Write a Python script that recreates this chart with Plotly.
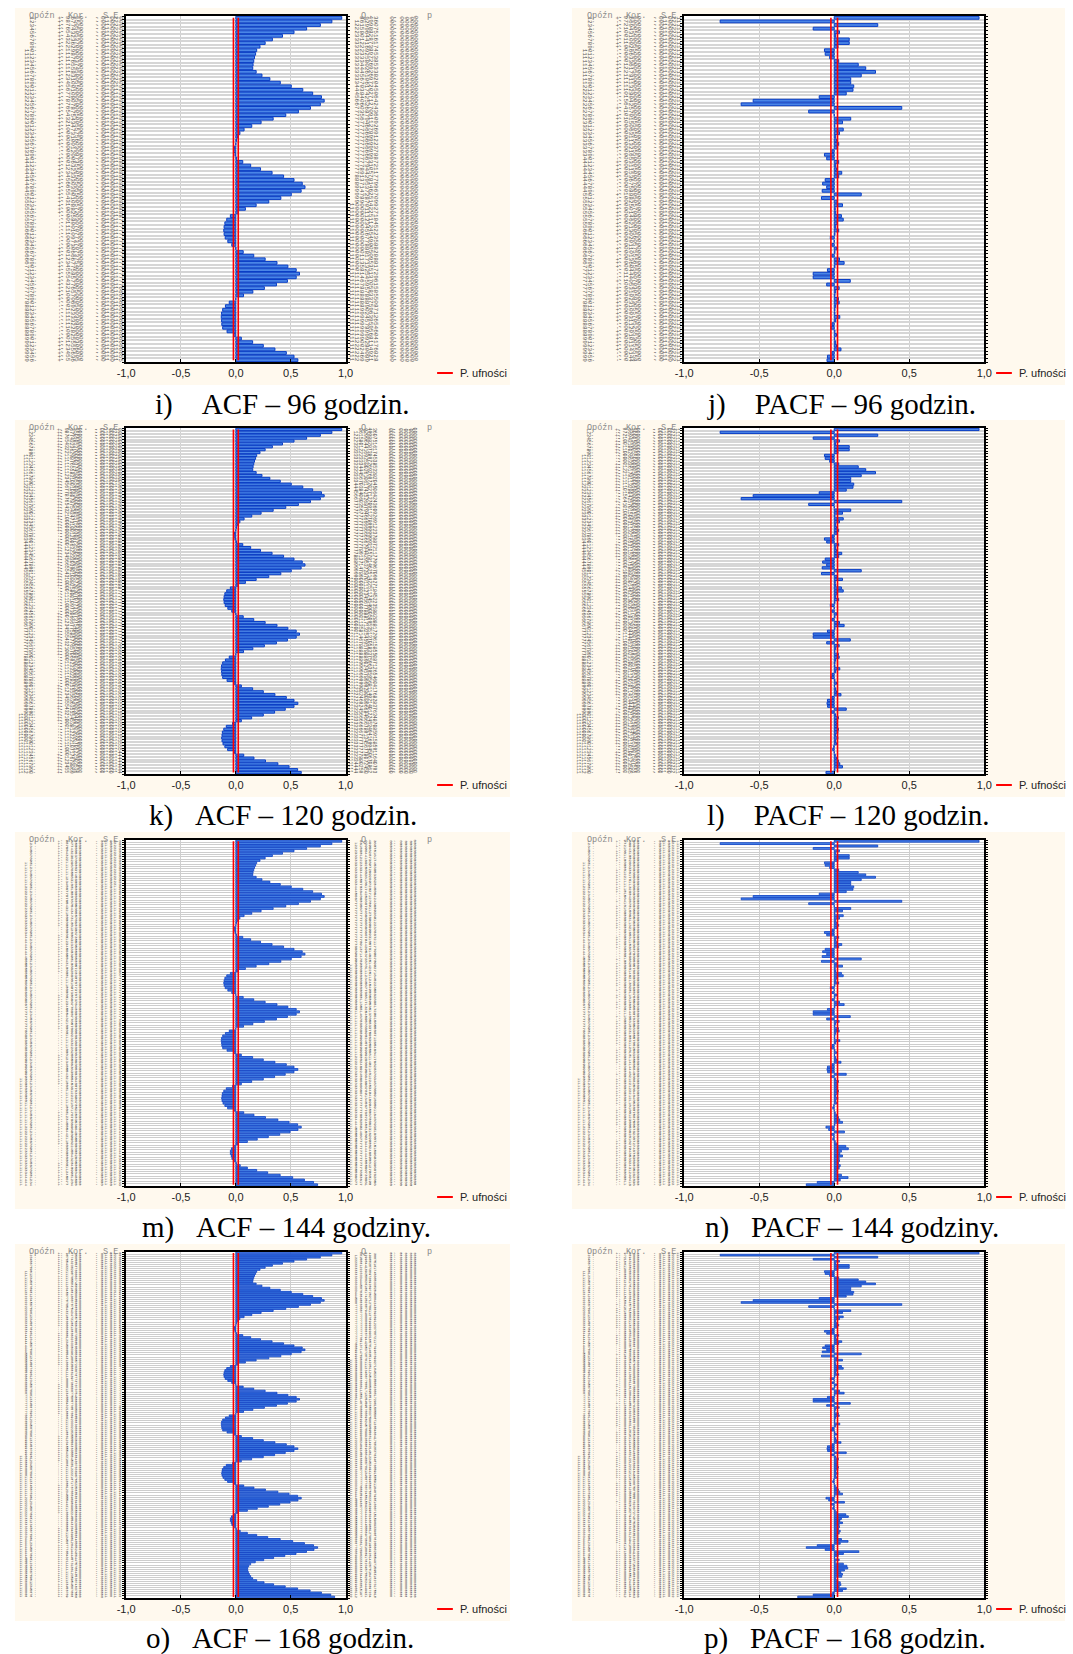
import math
import plotly.graph_objects as go

FIG_W, FIG_H = 1073, 1654

# ---------------- data ----------------
acf_lags_1_24 = [0.965, 0.875, 0.77, 0.645, 0.53, 0.425, 0.333, 0.267, 0.22, 0.19, 0.18, 0.17,
                 0.163, 0.157, 0.154, 0.185, 0.238, 0.31, 0.405, 0.505, 0.61, 0.70, 0.78, 0.805]
acf_lags_25_48 = [0.77, 0.68, 0.57, 0.455, 0.34, 0.23, 0.145, 0.075, 0.037, 0.015, 0.006, 0.0,
                  -0.013, -0.02, -0.008, 0.007, 0.063, 0.135, 0.225, 0.33, 0.435, 0.53, 0.605, 0.63]
acf_lags_49_72 = [0.595, 0.505, 0.41, 0.30, 0.185, 0.087, 0.022, -0.05, -0.083, -0.10, -0.107, -0.11,
                  -0.107, -0.097, -0.073, -0.037, 0.0, 0.067, 0.163, 0.267, 0.375, 0.474, 0.55, 0.58]
acf_lags_73_96 = [0.55, 0.47, 0.37, 0.26, 0.155, 0.07, 0.0, -0.06, -0.095, -0.12, -0.13, -0.133,
                  -0.13, -0.128, -0.12, -0.08, -0.02, 0.05, 0.153, 0.25, 0.356, 0.46, 0.53, 0.565]
acf_lags_97_120 = [0.53, 0.45, 0.353, 0.25, 0.144, 0.05, -0.03, -0.087, -0.11, -0.123, -0.126, -0.129,
                   -0.126, -0.117, -0.10, -0.075, -0.012, 0.072, 0.165, 0.27, 0.383, 0.485, 0.563, 0.596]
acf_lags_121_144 = [0.566, 0.494, 0.40, 0.296, 0.195, 0.105, 0.02, -0.02, -0.04, -0.05, -0.05, -0.042,
                    -0.036, -0.02, 0.005, 0.04, 0.105, 0.19, 0.29, 0.404, 0.518, 0.625, 0.708, 0.745]
acf_lags_145_168 = [0.712, 0.644, 0.548, 0.446, 0.344, 0.254, 0.177, 0.135, 0.117, 0.108, 0.108, 0.114,
                    0.123, 0.135, 0.153, 0.19, 0.257, 0.344, 0.45, 0.563, 0.677, 0.78, 0.865, 0.90]

pacf_lags_1_24 = [0.965, -0.76, 0.29, -0.14, 0.035, 0.01, 0.10, 0.10, 0.025, -0.065, -0.06, -0.03,
                  0.03, 0.16, 0.21, 0.275, 0.18, 0.11, 0.11, 0.13, 0.125, 0.08, -0.10, -0.54]
pacf_lags_25_48 = [-0.62, 0.45, -0.17, 0.0, 0.11, 0.055, 0.005, 0.06, 0.035, 0.01, 0.015, 0.03,
                   0.02, -0.015, -0.065, -0.05, 0.03, 0.01, 0.015, 0.05, 0.03, -0.06, -0.077, -0.05]
pacf_lags_49_72 = [-0.08, 0.18, -0.085, 0.02, 0.055, 0.007, 0.01, 0.048, 0.06, 0.02, 0.01, 0.03,
                   0.005, -0.026, 0.0, -0.015, 0.017, 0.005, -0.015, 0.035, 0.066, 0.005, -0.045, -0.14]
pacf_lags_73_96 = [-0.14, 0.107, -0.05, 0.033, 0.01, 0.005, 0.028, 0.033, 0.01, 0.005, 0.005, 0.037,
                   0.01, -0.015, -0.022, 0.005, 0.015, 0.003, 0.01, 0.015, 0.045, -0.015, -0.045, -0.048]
pacf_lags_97_120 = [-0.044, 0.08, -0.02, 0.01, 0.028, 0.022, 0.015, 0.02, 0.028, 0.024, 0.01, 0.024,
                    0.01, 0.015, -0.003, -0.01, 0.0, 0.007, 0.015, 0.028, 0.037, 0.055, 0.005, -0.055]
pacf_lags_121_144 = [-0.037, 0.068, -0.022, -0.003, -0.01, 0.007, 0.022, 0.077, 0.094, 0.048, 0.037, 0.055,
                     0.033, 0.035, 0.028, 0.04, 0.033, 0.015, 0.022, 0.048, 0.092, 0.04, -0.113, -0.186]
pacf_lags_145_168 = [-0.06, 0.164, 0.061, 0.026, 0.003, 0.033, 0.007, 0.061, 0.085, 0.09, 0.068, 0.044,
                     0.055, 0.05, 0.01, 0.024, 0.04, 0.044, 0.033, 0.08, 0.055, -0.01, -0.14, -0.243]

acf_values = (acf_lags_1_24 + acf_lags_25_48 + acf_lags_49_72 + acf_lags_73_96
              + acf_lags_97_120 + acf_lags_121_144 + acf_lags_145_168)
pacf_values = (pacf_lags_1_24 + pacf_lags_25_48 + pacf_lags_49_72 + pacf_lags_73_96
               + pacf_lags_97_120 + pacf_lags_121_144 + pacf_lags_145_168)

panel_kinds = ["ACF", "PACF", "ACF", "PACF", "ACF", "PACF", "ACF", "PACF"]
panel_nlags = [96, 96, 120, 120, 144, 144, 168, 168]
NB = "\u00a0"
caption_texts = [
    "i)" + NB * 4 + "ACF – 96 godzin.",
    "j)" + NB * 4 + "PACF – 96 godzin.",
    "k)" + NB * 3 + "ACF – 120 godzin.",
    "l)" + NB * 4 + "PACF – 120 godzin.",
    "m)" + NB * 3 + "ACF – 144 godziny.",
    "n)" + NB * 3 + "PACF – 144 godziny.",
    "o)" + NB * 3 + "ACF – 168 godzin.",
    "p)" + NB * 3 + "PACF – 168 godzin.",
]
conf_limits = [-0.022, 0.022]
x_tick_vals = [-1.0, -0.5, 0.0, 0.5, 1.0]
x_tick_text = ["-1,0", "-0,5", "0,0", "0,5", "1,0"]
legend_label = "P. ufności"
left_headers = ["Opóźn", "Kor.", "S.E"]
right_headers = ["Q", "p"]
n_obs = 9600

# ---------------- geometry (pixels) ----------------
col_frame = [(119, 342), (686, 991)]
col_cream = [(6, 509), (572, 1073)]
caption_x = [146, 707, 140, 707, 133, 705, 137, 704]
row_frame_top = [16, 428, 840, 1252]
FRAME_H = 346
row_cream_top = [8, 420, 832, 1244]
CREAM_H = 377
row_caption_y = [404, 815.5, 1227, 1638.5]
SERIF = "Liberation Serif, Times New Roman, Times, serif"


def px(x):
    return x / FIG_W


def py(y):
    return 1 - y / FIG_H


fig = go.Figure()
shapes = []
annotations = []


def add_strips(rows, x0, dx, yc, size, color):
    L = len(rows[0])
    for j in range(L):
        txt = "".join(s[j] for s in rows).replace(" ", NB)
        if txt.strip(NB) == "":
            continue
        annotations.append(dict(
            text=txt, x=px(x0 + j * dx), y=py(yc), xref="paper", yref="paper",
            showarrow=False, textangle=90, xanchor="center", yanchor="middle",
            borderpad=0, font=dict(family="Liberation Mono", size=size, color=color)))


for p in range(8):
    r, c = p // 2, p % 2
    kind = panel_kinds[p]
    N = panel_nlags[p]
    vals = (acf_values if kind == "ACF" else pacf_values)[:N]
    lags = list(range(1, N + 1))
    fx0, fx1 = col_frame[c]
    fy0 = row_frame_top[r]
    fy1 = fy0 + FRAME_H
    rowh = FRAME_H / N
    sfx = "" if p == 0 else str(p + 1)

    # backgrounds
    cx0, cx1 = col_cream[c]
    cy0 = row_cream_top[r]
    shapes.append(dict(type="rect", xref="paper", yref="paper", layer="below",
                       x0=px(cx0), x1=px(cx1), y0=py(cy0 + CREAM_H), y1=py(cy0),
                       fillcolor="#FFF9EE", line=dict(width=0)))
    shapes.append(dict(type="rect", xref="paper", yref="paper", layer="below",
                       x0=px(fx0), x1=px(fx1), y0=py(fy1), y1=py(fy0),
                       fillcolor="#FFFFFF", line=dict(width=0)))

    fig.add_trace(go.Bar(
        y=lags, x=vals, orientation="h", width=0.78,
        marker=dict(color="#4a85e6", line=dict(color="#0b3fc6", width=1.0 if N <= 120 else 0.8)),
        xaxis="x" + sfx, yaxis="y" + sfx, showlegend=False, hoverinfo="x+y"))
    fig.add_trace(go.Scatter(
        x=[conf_limits[0], conf_limits[0], None, conf_limits[1], conf_limits[1]],
        y=[1, N, None, 1, N], mode="lines", line=dict(color="#FF0000", width=1.6),
        xaxis="x" + sfx, yaxis="y" + sfx, showlegend=False, hoverinfo="skip"))

    grid_col = "#d6d6d6" if N <= 120 else "#cdcdcd"
    fig.layout["xaxis" + sfx] = dict(
        domain=[px(fx0), px(fx1)], anchor="y" + sfx, range=[-1, 1],
        tickvals=x_tick_vals, ticktext=x_tick_text, ticks="inside", ticklen=3,
        tickcolor="#000", showline=True, linecolor="#000", linewidth=2, mirror=True,
        showgrid=True, gridcolor="#cfcfcf", gridwidth=1.3, zeroline=False,
        tickfont=dict(family="Liberation Sans", size=11, color="#222"), fixedrange=True)
    fig.layout["yaxis" + sfx] = dict(
        domain=[py(fy1), py(fy0)], anchor="x" + sfx, range=[N + 0.5, 0.5],
        tick0=0.5, dtick=1, ticks="outside", ticklen=2, tickwidth=1, tickcolor="#000",
        showticklabels=False, showline=True, linecolor="#000", linewidth=2, mirror="ticks",
        showgrid=True, gridcolor=grid_col, gridwidth=max(1.0, rowh * 0.6), zeroline=False,
        fixedrange=True)

    # caption
    annotations.append(dict(text=caption_texts[p], x=px(caption_x[p]), y=py(row_caption_y[r]),
                            xref="paper", yref="paper", showarrow=False, xanchor="left",
                            yanchor="middle",
                            font=dict(family=SERIF, size=29, color="#000")))
    # legend
    lx = fx1 + 93 if c == 0 else fx1 + 12
    ly = fy1 + 11
    shapes.append(dict(type="line", xref="paper", yref="paper", x0=px(lx), x1=px(lx + 16),
                       y0=py(ly), y1=py(ly), line=dict(color="#FF0000", width=2)))
    annotations.append(dict(text=legend_label, x=px(lx + 21), y=py(ly), xref="paper",
                            yref="paper", showarrow=False, xanchor="left", yanchor="middle",
                            font=dict(family="Liberation Sans", size=11, color="#222")))

    # table texture (rotated tiny table text, one glyph per row)
    size = rowh / 0.6
    tcol = "#555" if N <= 96 else ("#444" if N <= 144 else "#2a2a2a")
    yc = (fy0 + fy1) / 2
    lag_rows = [f"{k:>3}." for k in lags]
    kor_rows = [("+" if v >= 0 else "-") + "," + f"{abs(v):.4f}"[2:] for v in vals]
    if kind == "ACF":
        se_rows = [("%.5f" % math.sqrt((n_obs - k) / (n_obs * (n_obs + 2))))[1:].replace(".", ",")
                   for k in lags]
    else:
        se_rows = [("%.5f" % (1 / math.sqrt(n_obs)))[1:].replace(".", ",") for k in lags]
    add_strips(lag_rows, fx0 - 107, 5.0, yc, size, tcol)
    add_strips(kor_rows, fx0 - 68.5, 4.4, yc, size, tcol)
    add_strips(se_rows, fx0 - 29, 4.5, yc, size, tcol)
    hdr_font = dict(family="Liberation Mono", size=8.5, color="#8a8a8a")
    for htxt, hx in zip(left_headers, [fx0 - 85, fx0 - 49, fx0 - 16]):
        annotations.append(dict(text=htxt, x=px(hx), y=py(fy0), xref="paper", yref="paper",
                                showarrow=False, xanchor="center", yanchor="middle", font=hdr_font))
    if kind == "ACF":
        q = 0.0
        q_rows = []
        for k, v in zip(lags, vals):
            q += n_obs * (n_obs + 2) * v * v / (n_obs - k)
            q_rows.append(f"{q:.0f}".rjust(6)[-6:])
        p_rows = ["0,0000" for k in lags]
        add_strips(q_rows, fx1 + 6, 4.8, yc, size, tcol)
        add_strips(p_rows, fx1 + 46, 5.0, yc, size, tcol)
        for htxt, hx in zip(right_headers, [fx1 + 18, fx1 + 85]):
            annotations.append(dict(text=htxt, x=px(hx), y=py(fy0), xref="paper", yref="paper",
                                    showarrow=False, xanchor="center", yanchor="middle",
                                    font=hdr_font))

fig.update_layout(
    width=FIG_W, height=FIG_H, margin=dict(l=0, r=0, t=0, b=0, pad=0),
    paper_bgcolor="#FFFFFF", plot_bgcolor="rgba(0,0,0,0)",
    shapes=shapes, annotations=annotations, showlegend=False, bargap=0.2,
)

fig.write_html("out.html")
